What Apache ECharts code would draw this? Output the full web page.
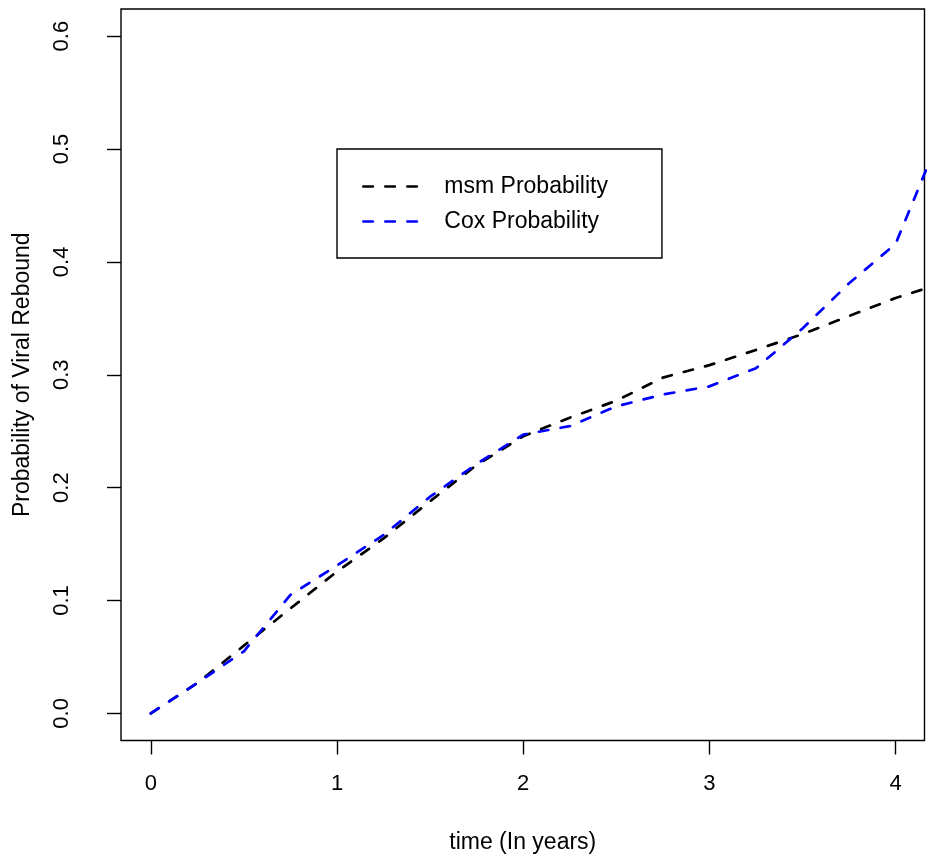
<!DOCTYPE html>
<html><head><meta charset="utf-8">
<script src="https://cdn.jsdelivr.net/npm/echarts@6/dist/echarts.min.js"></script>
<style>html,body{margin:0;padding:0;background:#fff}#c{width:932px;height:867px}</style>
</head><body><div id="c"></div>
<script>
// ---- data ----
const timeYears = [0, 0.25, 0.5, 0.75, 1, 1.25, 1.5, 1.75, 2, 2.25, 2.5, 2.75, 3, 3.25, 3.5, 3.75, 4, 4.25];
const msmProb   = [0, 0.027, 0.060, 0.093, 0.1257, 0.155, 0.188, 0.220, 0.2455, 0.262, 0.277, 0.2975, 0.3085, 0.322, 0.336, 0.352, 0.368, 0.381];
const coxProb   = [0, 0.027, 0.055, 0.105, 0.131, 0.158, 0.192, 0.221, 0.247, 0.2545, 0.272, 0.2825, 0.2897, 0.3058, 0.341, 0.381, 0.416, 0.516];
const xTicks = [0, 1, 2, 3, 4];
const yTicks = [0, 0.1, 0.2, 0.3, 0.4, 0.5, 0.6];
const seriesNames = ['msm Probability', 'Cox Probability'];
const xTitle = 'time (In years)';
const yTitle = 'Probability of Viral Rebound';

const FONT = 'Liberation Sans, Arial, Helvetica, sans-serif';
const pairs = (xs, ys) => xs.map((x, i) => [x, ys[i]]);
const dash = { width: 2.7, type: [9.5, 12.5], cap: 'round' };

const chart = echarts.init(document.getElementById('c'), null, { renderer: 'canvas' });
chart.setOption({
  animation: false,
  backgroundColor: '#fff',
  textStyle: { fontFamily: FONT },
  grid: {
    left: 121, right: 7.5, top: 9, bottom: 126.5,
    show: true, borderColor: '#000', borderWidth: 1.4, backgroundColor: 'transparent',
    containLabel: false, outerBoundsMode: 'none'
  },
  legend: {
    orient: 'vertical',
    left: 337, top: 149,
    padding: [25, 54, 24, 25],
    itemGap: 10,
    itemWidth: 55, itemHeight: 14,
    borderColor: '#000', borderWidth: 1.4,
    backgroundColor: '#fff',
    data: seriesNames,
    itemStyle: { opacity: 0 },
    lineStyle: { width: 2.7, type: [9.5, 12.5], cap: 'round' },
    textStyle: { fontFamily: FONT, fontSize: 23, color: '#000', lineHeight: 25, padding: [0, 0, 0, 21] }
  },
  xAxis: {
    type: 'value', min: -0.16, max: 4.155,
    name: xTitle, nameLocation: 'middle', nameGap: 91,
    nameTextStyle: { fontFamily: FONT, fontSize: 23, color: '#000' },
    axisLine: { show: false, onZero: false },
    splitLine: { show: false },
    axisTick: { show: true, customValues: xTicks, length: 14, lineStyle: { color: '#000', width: 1.4 } },
    axisLabel: { customValues: xTicks, fontFamily: FONT, fontSize: 22, color: '#000', margin: 32,
      formatter: v => String(v) }
  },
  yAxis: {
    type: 'value', min: -0.024, max: 0.624,
    name: yTitle, nameLocation: 'middle', nameGap: 87,
    nameTextStyle: { fontFamily: FONT, fontSize: 23, color: '#000' },
    axisLine: { show: false, onZero: false },
    splitLine: { show: false },
    axisTick: { show: true, customValues: yTicks, length: 14, lineStyle: { color: '#000', width: 1.4 } },
    axisLabel: { customValues: yTicks, rotate: 90, fontFamily: FONT, fontSize: 22, color: '#000', margin: 48,
      formatter: v => v.toFixed(1) }
  },
  series: [
    { name: seriesNames[0], type: 'line', data: pairs(timeYears, msmProb), symbol: 'none', clip: true,
      color: '#000000', lineStyle: Object.assign({ color: '#000000' }, dash) },
    { name: seriesNames[1], type: 'line', data: pairs(timeYears, coxProb), symbol: 'none', clip: true,
      color: '#0000ff', lineStyle: Object.assign({ color: '#0000ff' }, dash) }
  ]
});
</script>
</body></html>
